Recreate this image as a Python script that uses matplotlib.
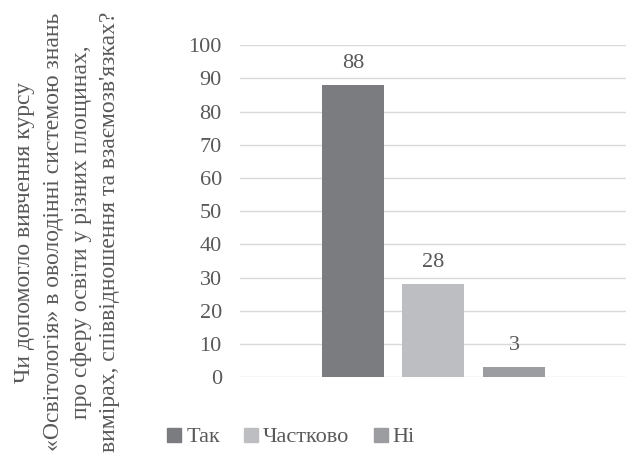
import matplotlib.pyplot as plt
from matplotlib.lines import Line2D

# Дані діаграми
categories = ["Так", "Частково", "\u041d\u0456"]
values = [88, 28, 3]
colors = ["#7b7c80", "#bdbec1", "#9c9da1"]
y_ticks = [0, 10, 20, 30, 40, 50, 60, 70, 80, 90, 100]
question = ("Чи допомогло вивчення курсу\n"
            "«Освітологія» в оволодінні системою знань\n"
            "про сферу освіти у різних площинах,\n"
            "вимірах, співвідношення та взаємозв'язках?")

plt.rcParams["font.family"] = ["Liberation Serif", "DejaVu Serif"]
text_color = "#595959"
fs = 16

fig = plt.figure(figsize=(6.28, 4.65), dpi=100)
ax = fig.add_axes([0.382, 0.189, 0.615, 0.714])

x = list(range(len(values)))
bars = ax.bar(x, values, width=0.77, color=colors, zorder=3)

for b, v in zip(bars, values):
    ax.annotate(str(v), (b.get_x() + b.get_width() / 2, v),
                xytext=(0, 12), textcoords="offset points",
                ha="center", va="baseline", fontsize=fs, color=text_color)

ax.set_xlim(-1.40, 3.39)
ax.set_ylim(0, 100)
ax.set_yticks(y_ticks)
ax.set_xticks([])
ax.tick_params(axis="y", length=0, labelsize=fs, labelcolor=text_color, pad=13)
ax.grid(axis="y", color="#d9d9d9", linewidth=1, zorder=0)
for s in ax.spines.values():
    s.set_visible(False)

fig.text(0.107, 1 - 232 / 465, question, rotation=90, ha="center", va="center",
         multialignment="center", fontsize=17, color=text_color, linespacing=1.45)

handles = [Line2D([], [], marker="s", linestyle="none", markersize=10.5,
                  markerfacecolor=c, markeredgecolor=c) for c in colors]
fig.legend(handles, categories, loc="center left", bbox_to_anchor=(0.245, 1 - 437 / 465),
           ncol=3, frameon=False, fontsize=fs, handletextpad=0.05, columnspacing=0.9,
           labelcolor=text_color, handlelength=1.0, borderaxespad=0)

fig.savefig("out.png", dpi=100)
